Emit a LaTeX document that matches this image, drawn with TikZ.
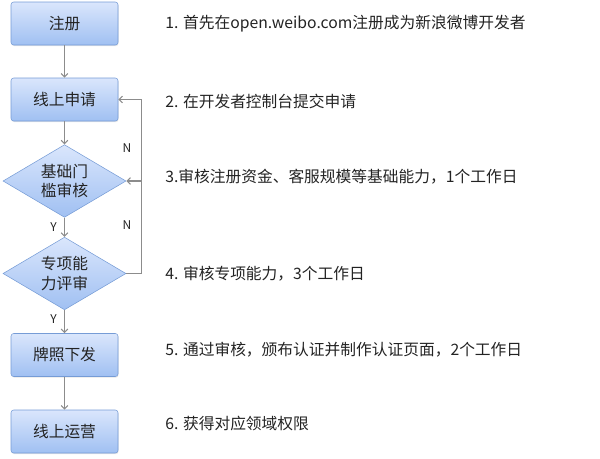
\documentclass[tikz,border=0pt]{standalone}
\usepackage{fontspec}
\setmainfont{Noto Sans CJK SC}
\usepackage{tikz}
\usetikzlibrary{positioning, arrows.meta, shapes.geometric, shadows, calc}
\definecolor{BoxTop}{RGB}{218,230,252}
\definecolor{BoxBottom}{RGB}{160,192,242}
\definecolor{BoxLine}{RGB}{118,156,214}
\definecolor{FlowGray}{RGB}{140,140,140}
\definecolor{TextDark}{RGB}{35,35,35}
\tikzset{
  stepbox/.style={draw=BoxLine, rounded corners=2pt, top color=BoxTop, bottom color=BoxBottom,
    minimum width=80.25pt, minimum height=32.25pt, text=TextDark,
    font=\fontsize{11.8pt}{14pt}\selectfont,
    drop shadow={shadow xshift=0.4pt, shadow yshift=-0.8pt, opacity=0.2}},
  checkbox/.style={diamond, draw=BoxLine, top color=BoxTop, bottom color=BoxBottom,
    aspect=1.7, inner sep=0pt, minimum width=92.25pt, minimum height=54.5pt, text=TextDark,
    align=center, font=\fontsize{11.8pt}{14.5pt}\selectfont},
  flow/.style={draw=FlowGray, line width=0.8pt, -{Straight Barb[length=2.6pt,width=5pt]}},
  yesno/.style={text=TextDark, font=\fontsize{9pt}{10pt}\selectfont},
  remark/.style={anchor=west, text=TextDark, font=\fontsize{11.8pt}{14pt}\selectfont, inner sep=0pt}
}
\begin{document}
\begin{tikzpicture}[x=0.75pt, y=-0.75pt]
  \useasboundingbox (0,0) rectangle (600,458);
  % flow column
  \node[stepbox] (reg) at (64.5,23.5) {注册};
  \node[stepbox] (apply) at (64.5,99.5) {线上申请};
  \node[checkbox] (basic) at (64.5,181) {基础门\\槛审核};
  \node[checkbox] (special) at (64.5,273.5) {专项能\\力评审};
  \node[stepbox] (license) at (64.5,355) {牌照下发};
  \node[stepbox] (operate) at (64.5,431.5) {线上运营};
  \coordinate (back) at (141.7,181);
  \draw[flow] (reg) -- (apply);
  \draw[flow] (apply) -- (basic);
  \draw[flow] (basic) -- node[yesno, left=2pt] {Y} (special);
  \draw[flow] (special) -- node[yesno, left=2pt, pos=0.4] {Y} (license);
  \draw[flow] (license) -- (operate);
  \draw[flow] (special.east) -| (back) -- (basic.east);
  \draw[flow] (back) |- (apply.east);
  \node[yesno] (n1) at (127,148) {N};
  \node[yesno] (n2) at (127,225) {N};
  % notes on the right
  \node[remark] (t1) at (165,24) {1. 首先在open.weibo.com注册成为新浪微博开发者};
  \node[remark] (t2) at (165,101) {2. 在开发者控制台提交申请};
  \node[remark] (t3) at (165,177) {3.审核注册资金、客服规模等基础能力，1个工作日};
  \node[remark] (t4) at (165,274) {4. 审核专项能力，3个工作日};
  \node[remark] (t5) at (165,350) {5. 通过审核，颁布认证并制作认证页面，2个工作日};
  \node[remark] (t6) at (165,424) {6. 获得对应领域权限};
\end{tikzpicture}
\end{document}
